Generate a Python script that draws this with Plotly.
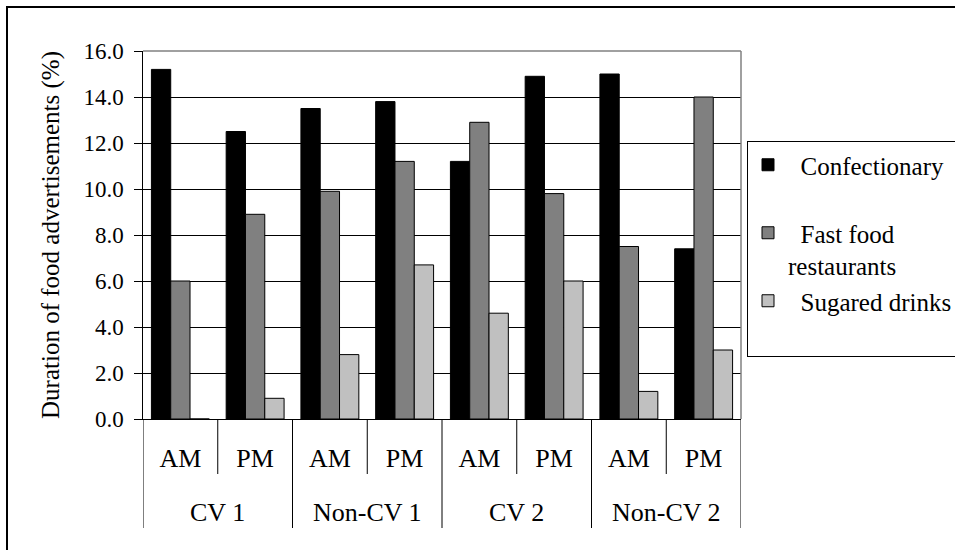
import plotly.graph_objects as go

groups = ["CV 1", "CV 1", "Non-CV 1", "Non-CV 1", "CV 2", "CV 2", "Non-CV 2", "Non-CV 2"]
times = ["AM", "PM", "AM", "PM", "AM", "PM", "AM", "PM"]
confectionary = [15.2, 12.5, 13.5, 13.8, 11.2, 14.9, 15.0, 7.4]
fast_food = [6.0, 8.9, 9.9, 11.2, 12.9, 9.8, 7.5, 14.0]
sugared = [0.0, 0.9, 2.8, 6.7, 4.6, 6.0, 1.2, 3.0]
series_names = ["Confectionary", "Fast food<br>restaurants", "Sugared drinks"]

FONT = "Liberation Serif"
W, H = 955, 550
L, R, T, B = 143, 741, 51, 419  # plot area pixel bounds


def px(x):
    return (x - L) / (R - L)


def py(y):
    return (B - y) / (B - T)


xpos = list(range(len(times)))
NB = "\u00a0"

fig = go.Figure()
fills = ["#000000", "#808080", "#C0C0C0"]
legend_names = [NB * 2 + series_names[0] + "<br>" + NB,
                NB * 2 + series_names[1],
                NB * 2 + series_names[2] + "<br>" + NB]
for vals, name, col in zip([confectionary, fast_food, sugared], legend_names, fills):
    fig.add_trace(go.Bar(x=xpos, y=vals, name=name,
                         marker=dict(color=col, line=dict(color="#000000", width=1))))

fig.update_layout(
    width=W, height=H,
    margin=dict(l=L, r=W - R, t=T, b=H - B, pad=0, autoexpand=False),
    paper_bgcolor="white", plot_bgcolor="white",
    font=dict(family=FONT, size=23, color="black"),
    barmode="group", bargap=0.225, bargroupgap=0,
    showlegend=True,
    legend=dict(x=px(747), y=py(141), xanchor="left", yanchor="top",
                bordercolor="black", borderwidth=1, bgcolor="white",
                font=dict(family=FONT, size=25, color="black"),
                valign="top"),
    xaxis=dict(range=[-0.5, len(times) - 0.5], tickvals=xpos, ticktext=times,
               showline=True, linecolor="black", linewidth=1,
               ticks="outside", ticklen=16, tickcolor="rgba(0,0,0,0)",
               showgrid=False, zeroline=False, automargin=False,
               tickfont=dict(family=FONT, size=26, color="black")),
    yaxis=dict(range=[0, 16], dtick=2, tickformat=".1f", ticksuffix=NB,
               showline=True, linecolor="black", linewidth=1,
               ticks="outside", ticklen=8, tickcolor="black",
               showgrid=True, gridcolor="black", gridwidth=1,
               zeroline=False, automargin=False,
               tickfont=dict(family=FONT, size=23, color="black"),
               title=dict(text="Duration of food advertisements (%)",
                          font=dict(family=FONT, size=25, color="black"), standoff=16)),
)

# separators under the x axis
bounds = [i - 0.5 for i in range(len(times) + 1)]
for i, b in enumerate(bounds):
    is_group = i == 0 or i == len(times) or groups[i] != groups[i - 1]
    fig.add_shape(type="line", xref="x", yref="paper", x0=b, x1=b, y0=0,
                  y1=py(528) if is_group else py(474),
                  line=dict(color="black", width=1))

# group labels
seen = []
for g in groups:
    if g not in seen:
        seen.append(g)
for g in seen:
    idx = [i for i, gg in enumerate(groups) if gg == g]
    fig.add_annotation(x=sum(idx) / len(idx), xref="x", y=py(512), yref="paper",
                       text=g, showarrow=False, yanchor="middle",
                       font=dict(family=FONT, size=26, color="black"))

# gray frame on top and right of plot area
fig.add_shape(type="line", xref="paper", yref="paper", x0=0, x1=1, y0=1, y1=1,
              line=dict(color="#808080", width=1.5), layer="above")
fig.add_shape(type="line", xref="paper", yref="paper", x0=1, x1=1, y0=0, y1=1,
              line=dict(color="#808080", width=1.5), layer="above")
# outer chart border
fig.add_shape(type="rect", xref="paper", yref="paper",
              x0=px(7), x1=px(975), y0=py(570), y1=py(7),
              line=dict(color="black", width=2), layer="below")

fig.write_html("out.html")
